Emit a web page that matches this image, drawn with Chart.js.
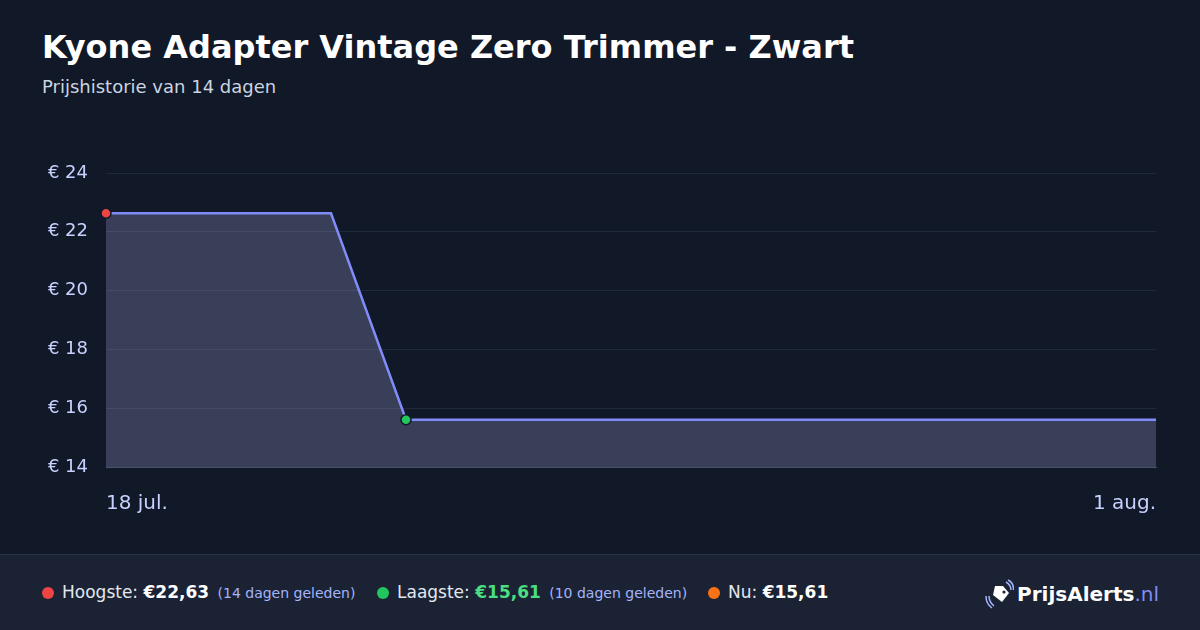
<!DOCTYPE html>
<html>
<head>
<meta charset="utf-8">
<script src="https://cdn.jsdelivr.net/npm/chart.js@4/dist/chart.umd.min.js"></script>
<style>
  html, body { margin: 0; padding: 0; }
  body {
    width: 1200px; height: 630px; overflow: hidden;
    background: #111827;
    font-family: "DejaVu Sans", sans-serif;
    position: relative;
  }
  h1 {
    position: absolute; left: 42px; top: 28px; margin: 0;
    font-size: 32px; font-weight: bold; color: #ffffff;
  }
  .sub {
    position: absolute; left: 42px; top: 76px;
    font-size: 18px; color: #cbd5e1;
  }
  .chartBox { position: absolute; left: 0; top: 0; width: 1200px; height: 554px; }
  .footer {
    position: absolute; left: 0; top: 554px; width: 1200px; height: 76px;
    background: #1a2233; border-top: 1px solid #27304f; box-sizing: border-box;
  }
  .stat { position: absolute; top: 27px; font-size: 17px; color: #e2e8f0; white-space: nowrap; }
  .stat .dot { display: inline-block; width: 12px; height: 12px; border-radius: 50%; margin-right: 8px; vertical-align: -1px; }
  .stat b { color: #ffffff; }
  .stat small { font-size: 14px; color: #a5b4fc; margin-left: 3px; }
  .logo { position: absolute; right: 41px; top: 24px; font-size: 20px; white-space: nowrap; }
  .logo b { color: #ffffff; }
  .logo span { color: #818cf8; }
  .logo svg { vertical-align: -8px; margin-right: 3px; }
</style>
</head>
<body>
<h1>Kyone Adapter Vintage Zero Trimmer - Zwart</h1>
<div class="sub">Prijshistorie van 14 dagen</div>
<div class="chartBox"><canvas id="priceChart"></canvas></div>
<div class="footer">
  <div class="stat" style="left:42px"><i class="dot" style="background:#ef4444"></i>Hoogste: <b>€22,63</b> <small>(14 dagen geleden)</small></div>
  <div class="stat" style="left:377px"><i class="dot" style="background:#22c55e"></i>Laagste: <b style="color:#4ade80">€15,61</b> <small>(10 dagen geleden)</small></div>
  <div class="stat" style="left:708px"><i class="dot" style="background:#f97316"></i>Nu: <b>€15,61</b></div>
  <div class="logo">
    <svg width="30" height="30" viewBox="0 0 30 30">
      <path d="M11 7 L19 7 L25 14 L18 23 L9 16 Z" fill="#ffffff"/>
      <circle cx="20" cy="13" r="1.6" fill="#1a2233"/>
      <path d="M22 3 Q27 6 27 11" stroke="#a5b4fc" stroke-width="1.5" fill="none"/>
      <path d="M24 1 Q30 4 29.5 11" stroke="#a5b4fc" stroke-width="1.5" fill="none"/>
      <path d="M5 17 Q5 23 10 27" stroke="#a5b4fc" stroke-width="1.5" fill="none"/>
      <path d="M2 17 Q2 25 8 29" stroke="#a5b4fc" stroke-width="1.5" fill="none"/>
    </svg><b>PrijsAlerts</b><span>.nl</span>
  </div>
</div>
<script>
const dates = ['18 jul.', '19 jul.', '20 jul.', '21 jul.', '22 jul.', '23 jul.', '24 jul.', '25 jul.',
               '26 jul.', '27 jul.', '28 jul.', '29 jul.', '30 jul.', '31 jul.', '1 aug.'];
const prices = [22.63, 22.63, 22.63, 22.63, 15.61, 15.61, 15.61, 15.61,
                15.61, 15.61, 15.61, 15.61, 15.61, 15.61, 15.61];
const yTicks = [14, 16, 18, 20, 22, 24];

// index van hoogste en laagste prijs (eerste keer)
const maxIdx = prices.indexOf(Math.max(...prices));
const minIdx = prices.indexOf(Math.min(...prices));

const priceChart = new Chart(document.getElementById('priceChart'), {
  type: 'line',
  data: {
    labels: dates,
    datasets: [{
      data: prices,
      borderColor: '#818cf8',
      borderWidth: 2.5,
      backgroundColor: 'rgba(154, 156, 204, 0.3)',
      fill: 'start',
      tension: 0,
      pointRadius: ctx => (ctx.dataIndex === maxIdx || ctx.dataIndex === minIdx) ? 5 : 0,
      pointBackgroundColor: ctx => ctx.dataIndex === maxIdx ? '#ef4444' : '#22c55e',
      pointBorderColor: '#111827',
      pointBorderWidth: 1.5
    }]
  },
  options: {
    responsive: true,
    maintainAspectRatio: false,
    animation: false,
    layout: { padding: { left: 40, right: 44, top: 173, bottom: 0 } },
    plugins: { legend: { display: false }, tooltip: { enabled: false } },
    scales: {
      x: {
        grid: { display: false, drawTicks: false },
        border: { display: true, color: 'rgba(148, 163, 184, 0.35)', width: 1 },
        ticks: {
          autoSkip: false,
          maxRotation: 0,
          align: 'inner',
          padding: 25,
          color: '#c7d2fe',
          font: { family: 'DejaVu Sans', size: 20 },
          callback: function (val, i) {
            return (i === 0 || i === dates.length - 1) ? dates[i] : '';
          }
        },
        afterFit: scale => { scale.height = 87; }
      },
      y: {
        min: yTicks[0],
        max: yTicks[yTicks.length - 1],
        afterBuildTicks: scale => { scale.ticks = yTicks.map(v => ({ value: v })); },
        grid: { color: 'rgba(148, 163, 184, 0.12)', drawTicks: false },
        border: { display: false },
        ticks: {
          padding: 18,
          color: '#c7d2fe',
          font: { family: 'DejaVu Sans', size: 18 },
          callback: v => '€ ' + v
        },
        afterFit: scale => { scale.width = 66; }
      }
    }
  }
});
</script>
</body>
</html>
